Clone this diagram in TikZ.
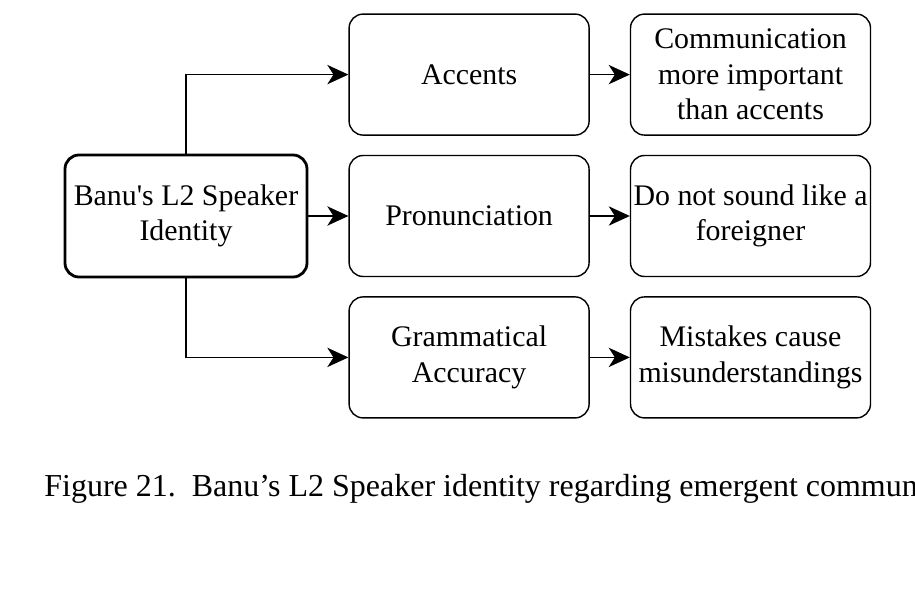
\documentclass[tikz,border=0pt]{standalone}
\usepackage{fontspec}
\setmainfont{Liberation Serif}
\usetikzlibrary{positioning,arrows.meta}

\tikzset{
  box/.style={draw, rounded corners=0.28cm, line width=0.8pt, minimum width=4.8cm, minimum height=2.42cm, align=center, inner sep=0pt, font=\fontsize{17}{20.2}\selectfont},
  rootbox/.style={box, line width=1.6pt, minimum width=4.84cm, minimum height=2.44cm},
  arr/.style={-{Stealth[length=12pt,width=11pt,inset=3.5pt]}, line width=0.8pt},
}

\begin{document}
\begin{tikzpicture}
\useasboundingbox (0,0) rectangle (18.3,-12.1);

\node[rootbox] (banu) at (3.72,-4.32) {Banu\textquotesingle s L2 Speaker\\Identity};

\node[box, right=0.8cm of banu] (pron) {Pronunciation};
\node[box, above=0.38cm of pron] (accent) {Accents};
\node[box, below=0.38cm of pron] (gram) {Grammatical\\Accuracy};

\node[box, right=0.8cm of accent] (comm) {Communication\\more important\\than accents};
\node[box, right=0.8cm of pron] (foreign) {Do not sound like a\\foreigner};
\node[box, right=0.8cm of gram] (mistake) {Mistakes cause\\misunderstandings};

\draw[arr] (banu.north) |- (accent.west);
\draw[arr] (banu) -- (pron);
\draw[arr] (banu.south) |- (gram.west);

\draw[arr] (accent) -- (comm);
\draw[arr] (pron) -- (foreign);
\draw[arr] (gram) -- (mistake);

\node[anchor=base west, inner sep=0pt, font=\fontsize{18.2}{21}\selectfont] (caption) at (0.88,-9.92)
  {Figure 21.\ \ Banu’s L2 Speaker identity regarding emergent commun};
\end{tikzpicture}
\end{document}
